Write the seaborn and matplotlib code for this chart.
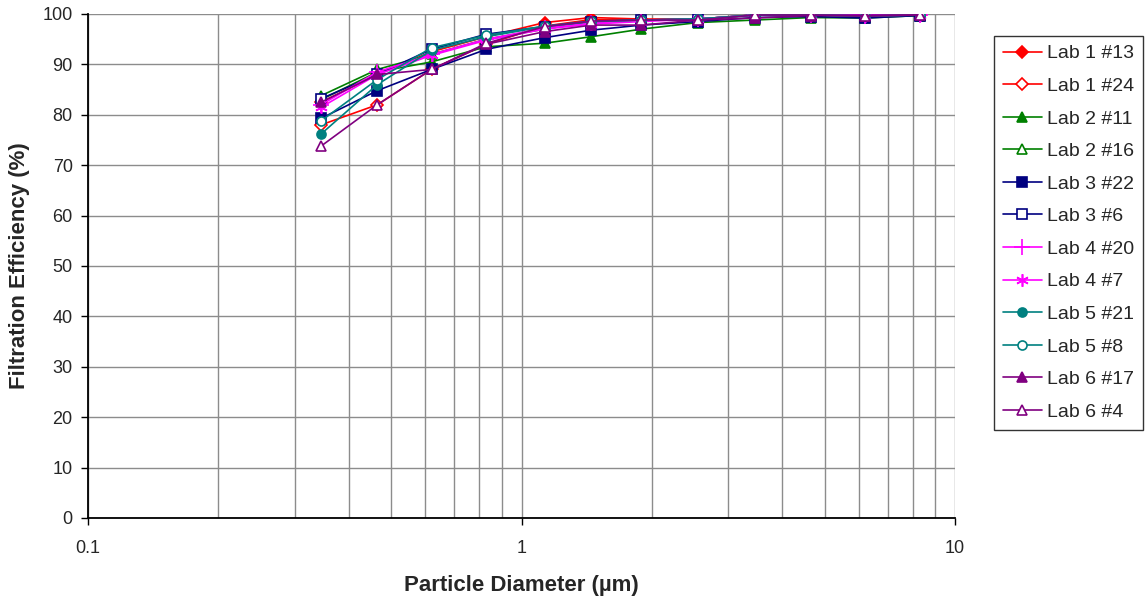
import matplotlib
matplotlib.use("Agg")
import matplotlib.pyplot as plt
import matplotlib.ticker as mticker
import seaborn as sns
import pandas as pd

# Particle size channels (µm)
diameters = [0.345, 0.465, 0.62, 0.83, 1.13, 1.45, 1.89, 2.55, 3.45, 4.65, 6.2, 8.3]

series_names = ["Lab 1 #13", "Lab 1 #24", "Lab 2 #11", "Lab 2 #16", "Lab 3 #22", "Lab 3 #6",
                "Lab 4 #20", "Lab 4 #7", "Lab 5 #21", "Lab 5 #8", "Lab 6 #17", "Lab 6 #4"]

lab1_13 = [82.5, 88.0, 92.5, 95.5, 98.3, 99.3, 99.0, 99.0, 99.8, 99.8, 99.8, 99.8]
lab1_24 = [78.0, 82.0, 89.0, 94.0, 97.6, 98.9, 98.8, 99.0, 99.8, 99.8, 99.8, 99.8]
lab2_11 = [83.0, 88.5, 90.5, 93.5, 94.2, 95.5, 97.0, 98.3, 98.8, 99.3, 99.2, 99.7]
lab2_16 = [83.8, 89.0, 92.0, 95.0, 97.0, 98.5, 98.8, 98.8, 99.8, 99.8, 99.5, 99.8]
lab3_22 = [79.3, 84.8, 89.0, 93.0, 95.3, 96.8, 97.8, 98.5, 99.3, 99.5, 99.2, 99.7]
lab3_6 = [83.2, 88.0, 93.0, 96.0, 97.5, 98.5, 98.8, 99.0, 99.8, 99.8, 99.8, 99.8]
lab4_20 = [82.0, 88.5, 92.0, 95.0, 97.2, 98.2, 98.8, 99.0, 99.8, 99.8, 99.7, 99.8]
lab4_7 = [81.5, 88.0, 91.8, 94.8, 97.0, 98.0, 98.5, 99.0, 99.8, 99.8, 99.7, 99.8]
lab5_21 = [76.2, 86.0, 92.8, 95.5, 97.5, 98.5, 98.8, 99.0, 99.8, 99.8, 99.6, 99.8]
lab5_8 = [78.8, 87.0, 93.3, 95.8, 97.6, 98.6, 98.8, 99.0, 99.8, 99.8, 99.6, 99.8]
lab6_17 = [82.5, 88.0, 89.0, 94.0, 96.5, 97.8, 97.8, 98.8, 99.2, 99.7, 99.7, 99.8]
lab6_4 = [73.8, 82.0, 89.0, 94.2, 97.5, 98.6, 98.8, 98.8, 99.8, 99.8, 99.6, 99.8]

efficiencies = [lab1_13, lab1_24, lab2_11, lab2_16, lab3_22, lab3_6,
                lab4_20, lab4_7, lab5_21, lab5_8, lab6_17, lab6_4]

colors = ["#FF0000", "#FF0000", "#008000", "#008000", "#000080", "#000080",
          "#FF00FF", "#FF00FF", "#008080", "#008080", "#800080", "#800080"]
markers = ["D", "D", "^", "^", "s", "s", "+", (6, 2, 0), "o", "o", "^", "^"]
filled = [True, False, True, False, True, False, True, True, True, False, True, False]
msizes = [6, 6, 7.5, 7.5, 6.5, 6.5, 11, 9, 6.5, 6.5, 7.5, 7.5]

sns.set_style("white")
plt.rcParams["font.family"] = ["Liberation Sans", "DejaVu Sans"]

fig = plt.figure(figsize=(11.46, 6.0), dpi=100)
ax = fig.add_axes([88 / 1146, 1 - 518 / 600, (955 - 88) / 1146, (518 - 14) / 600])

for name, vals, c, m, f, ms in zip(series_names, efficiencies, colors, markers, filled, msizes):
    df = pd.DataFrame({"d": diameters, "eff": vals})
    sns.lineplot(data=df, x="d", y="eff", ax=ax, color=c, marker=m, markersize=ms,
                 markerfacecolor=(c if f else "white"), markeredgecolor=c,
                 markeredgewidth=1.2, linewidth=1.2, label=name, estimator=None,
                 sort=False, zorder=3)

ax.set_xscale("log")
ax.set_xlim(0.1, 10)
ax.set_ylim(0, 100)
ax.set_yticks(range(0, 101, 10))
ax.xaxis.set_major_locator(mticker.FixedLocator([0.1, 1, 10]))
ax.xaxis.set_major_formatter(mticker.FixedFormatter(["0.1", "1", "10"]))
ax.xaxis.set_minor_locator(mticker.LogLocator(base=10, subs=range(2, 10)))
ax.xaxis.set_minor_formatter(mticker.NullFormatter())

ax.grid(True, which="major", axis="both", color="#8c8c8c", linewidth=1.0)
ax.grid(True, which="minor", axis="x", color="#8c8c8c", linewidth=1.0)
ax.set_axisbelow(True)

for side in ("top", "right"):
    ax.spines[side].set_visible(False)
for side in ("left", "bottom"):
    ax.spines[side].set_color("black")
    ax.spines[side].set_linewidth(1.3)
    ax.spines[side].set_zorder(4)

ax.tick_params(axis="both", which="major", direction="out", length=5, width=1,
               color="black", labelsize=13, left=True, bottom=True)
ax.tick_params(axis="y", which="major", pad=6)
ax.tick_params(axis="x", which="major", pad=11)
ax.tick_params(axis="x", which="minor", length=0)

ax.set_xlabel("Particle Diameter (µm)", fontsize=16, fontweight="bold", labelpad=13)
ax.set_ylabel("Filtration Efficiency (%)", fontsize=16, fontweight="bold", labelpad=9)

leg = ax.legend(loc="upper left", bbox_to_anchor=(994 / 1146, 1 - 36 / 600),
                bbox_transform=fig.transFigure, fontsize=14, frameon=True,
                fancybox=False, edgecolor="black", handlelength=2.0,
                labelspacing=0.77, borderpad=0.45, borderaxespad=0, handletextpad=0.3)
leg.get_frame().set_linewidth(1.0)

fig.savefig("out.png", dpi=100)
